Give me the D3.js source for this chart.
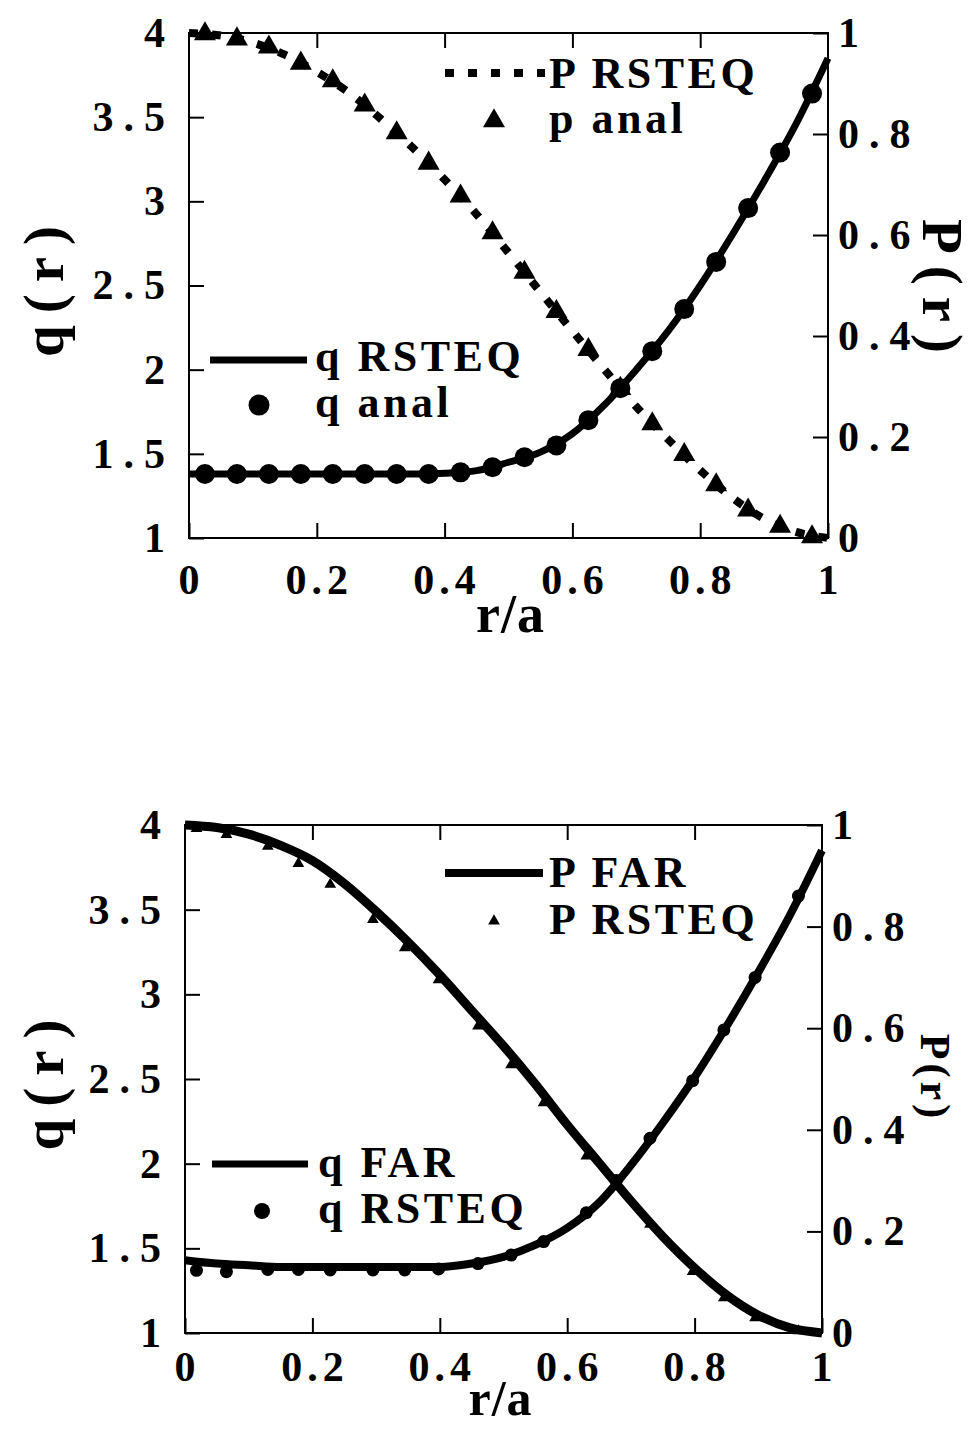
<!DOCTYPE html>
<html>
<head>
<meta charset="utf-8">
<script src="https://cdn.jsdelivr.net/npm/d3@7"></script>
<style>
  body { margin: 0; background: #fff; }
  svg text { font-family: "Liberation Serif", "Times New Roman", serif; font-weight: bold; fill: #000; }
</style>
</head>
<body>
<svg id="chart"></svg>
<script>
// ---- data ----
const xTicks = [0, 0.2, 0.4, 0.6, 0.8, 1];
const qTicks = [1, 1.5, 2, 2.5, 3, 3.5, 4];
const pTicks = [0, 0.2, 0.4, 0.6, 0.8, 1];

// top panel: RSTEQ curves
const rLineTop = [0, 0.05, 0.1, 0.15, 0.2, 0.25, 0.3, 0.35, 0.4, 0.45, 0.5, 0.55, 0.6, 0.65, 0.7, 0.75, 0.8, 0.85, 0.9, 0.95, 1.0];
const qRsteqTop = [1.38, 1.38, 1.38, 1.38, 1.38, 1.38, 1.38, 1.38, 1.385, 1.40, 1.45, 1.51, 1.62, 1.79, 2.00, 2.23, 2.50, 2.80, 3.12, 3.46, 3.85];
const pRsteqTop = [1.0, 0.995, 0.981, 0.957, 0.923, 0.882, 0.83, 0.773, 0.71, 0.641, 0.565, 0.487, 0.41, 0.334, 0.26, 0.195, 0.134, 0.08, 0.038, 0.012, 0.0];

// top panel: analytic points
const rAnal = [0.025, 0.075, 0.125, 0.175, 0.225, 0.275, 0.325, 0.375, 0.425, 0.475, 0.525, 0.575, 0.625, 0.675, 0.725, 0.775, 0.825, 0.875, 0.925, 0.975];
const qAnal = [1.38, 1.38, 1.38, 1.38, 1.38, 1.38, 1.38, 1.38, 1.39, 1.42, 1.48, 1.55, 1.70, 1.89, 2.11, 2.36, 2.64, 2.96, 3.29, 3.64];
const pAnal = [0.998, 0.988, 0.972, 0.94, 0.905, 0.857, 0.802, 0.742, 0.677, 0.604, 0.526, 0.448, 0.373, 0.296, 0.226, 0.165, 0.105, 0.055, 0.023, 0.002];

// bottom panel: FAR curves
const rFar = [0, 0.05, 0.1, 0.15, 0.2, 0.25, 0.3, 0.35, 0.4, 0.45, 0.5, 0.55, 0.6, 0.65, 0.7, 0.75, 0.8, 0.85, 0.9, 0.95, 1.0];
const qFar = [1.43, 1.41, 1.40, 1.39, 1.39, 1.39, 1.39, 1.39, 1.39, 1.41, 1.45, 1.52, 1.62, 1.77, 1.99, 2.24, 2.51, 2.81, 3.13, 3.47, 3.85];
const pFar = [1.0, 0.995, 0.982, 0.96, 0.93, 0.885, 0.83, 0.77, 0.705, 0.635, 0.565, 0.49, 0.41, 0.335, 0.26, 0.19, 0.128, 0.075, 0.035, 0.01, 0.0];

// bottom panel: RSTEQ points
const rRsteq = [0.018, 0.065, 0.13, 0.178, 0.228, 0.295, 0.345, 0.398, 0.46, 0.512, 0.563, 0.63, 0.677, 0.73, 0.797, 0.846, 0.895, 0.963];
const qRsteqBot = [1.37, 1.362, 1.375, 1.375, 1.372, 1.372, 1.372, 1.378, 1.41, 1.46, 1.54, 1.71, 1.90, 2.15, 2.49, 2.79, 3.10, 3.58];
const pRsteqBot = [0.993, 0.981, 0.958, 0.924, 0.883, 0.814, 0.758, 0.695, 0.604, 0.528, 0.453, 0.348, 0.296, 0.214, 0.121, 0.069, 0.030, 0.004];

const svg = d3.select("#chart").attr("width", 980).attr("height", 1430);

function drawPanel(opt) {
  const g = svg.append("g").attr("transform", "translate(" + opt.left + "," + opt.top + ")");
  const w = opt.width, h = opt.height;
  const x = d3.scaleLinear().domain([0, 1]).range([0, w]);
  const yq = d3.scaleLinear().domain([1, 4]).range([h, 0]);
  const yp = d3.scaleLinear().domain([0, 1]).range([h, 0]);

  // axes with inward ticks
  const fmt = d => String(d);
  const bottom = g.append("g").attr("transform", "translate(0," + h + ")")
    .call(d3.axisBottom(x).tickValues(xTicks).tickFormat(fmt).tickSize(-15).tickSizeOuter(0).tickPadding(opt.xPad));
  const topAx = g.append("g")
    .call(d3.axisTop(x).tickValues(xTicks.slice(1, -1)).tickFormat("").tickSize(-15).tickSizeOuter(0));
  const left = g.append("g")
    .call(d3.axisLeft(yq).tickValues(qTicks).tickFormat(fmt).tickSize(-15).tickSizeOuter(0).tickPadding(14));
  const right = g.append("g").attr("transform", "translate(" + w + ",0)")
    .call(d3.axisRight(yp).tickValues(pTicks).tickFormat(fmt).tickSize(-15).tickSizeOuter(0).tickPadding(10));
  [bottom, topAx, left, right].forEach(a => {
    a.select(".domain").remove();
    a.selectAll("line").attr("stroke", "#000").attr("stroke-width", 2);
    a.selectAll("text").attr("font-size", 42).style("letter-spacing", "10px")
      .attr("font-family", null);
  });
  bottom.selectAll("text").style("letter-spacing", "5px").attr("dx", "2px");

  g.append("rect").attr("width", w).attr("height", h)
    .attr("fill", "none").attr("stroke", "#000").attr("stroke-width", 2);

  // axis titles
  g.append("text").attr("x", w / 2 + opt.xtDx).attr("y", h + opt.xtDy)
    .attr("text-anchor", "middle").attr("font-size", opt.xtSize).style("letter-spacing", "1px").text("r/a");
  g.append("text").attr("transform", "translate(" + opt.qtX + "," + (h / 2) + ") rotate(-90)")
    .attr("text-anchor", "middle").attr("dy", "0.35em")
    .attr("font-size", 57).style("letter-spacing", "12px").text("q(r)");
  g.append("text").attr("transform", "translate(" + opt.ptX + "," + opt.ptY + ") rotate(90)")
    .attr("text-anchor", "middle").attr("dy", "0.35em")
    .attr("font-size", opt.ptSize).style("letter-spacing", opt.ptSpace + "px").text("P(r)");

  return { g, x, yq, yp };
}

function legendText(g, x, y, s) {
  g.append("text").attr("x", x).attr("y", y).attr("font-size", 44)
    .style("letter-spacing", "3.5px").text(s);
}

// ---------- top panel ----------
const A = drawPanel({ left: 189, top: 33, width: 639, height: 505, xPad: 26, xtDx: 2, xtDy: 94, xtSize: 54,
  qtX: -146, ptX: 754, ptY: 259, ptSize: 57, ptSpace: 12 });

const lineQ = d3.line().x((d, i) => A.x(rLineTop[i])).y(d => A.yq(d)).curve(d3.curveMonotoneX);
const lineP = d3.line().x((d, i) => A.x(rLineTop[i])).y(d => A.yp(d)).curve(d3.curveMonotoneX);

A.g.append("path").datum(pRsteqTop).attr("d", lineP)
  .attr("fill", "none").attr("stroke", "#000").attr("stroke-width", 8).attr("stroke-dasharray", "9,14");
A.g.append("path").datum(qRsteqTop).attr("d", lineQ)
  .attr("fill", "none").attr("stroke", "#000").attr("stroke-width", 7);

A.g.selectAll(".qa").data(qAnal).join("circle")
  .attr("cx", (d, i) => A.x(rAnal[i])).attr("cy", d => A.yq(d)).attr("r", 10).attr("fill", "#000");
const triBig = d3.symbol(d3.symbolTriangle, 210);
A.g.selectAll(".pa").data(pAnal).join("path")
  .attr("d", triBig).attr("fill", "#000")
  .attr("transform", (d, i) => "translate(" + A.x(rAnal[i]) + "," + A.yp(d) + ")");

// top legend
A.g.append("line").attr("x1", 256).attr("x2", 356).attr("y1", 40).attr("y2", 40)
  .attr("stroke", "#000").attr("stroke-width", 8).attr("stroke-dasharray", "9,14");
legendText(A.g, 360, 55, "P RSTEQ");
A.g.append("path").attr("d", triBig).attr("fill", "#000").attr("transform", "translate(305,88)");
legendText(A.g, 360, 100, "p anal");
A.g.append("line").attr("x1", 21).attr("x2", 118).attr("y1", 327).attr("y2", 327)
  .attr("stroke", "#000").attr("stroke-width", 7);
legendText(A.g, 126, 338, "q RSTEQ");
A.g.append("circle").attr("cx", 70).attr("cy", 372).attr("r", 10.5).attr("fill", "#000");
legendText(A.g, 126, 384, "q anal");

// ---------- bottom panel ----------
const B = drawPanel({ left: 185, top: 825, width: 637, height: 508, xPad: 18, xtDx: -3, xtDy: 82, xtSize: 50,
  qtX: -142, ptX: 751, ptY: 253, ptSize: 42, ptSpace: 4 });

const lineQf = d3.line().x((d, i) => B.x(rFar[i])).y(d => B.yq(d)).curve(d3.curveMonotoneX);
const linePf = d3.line().x((d, i) => B.x(rFar[i])).y(d => B.yp(d)).curve(d3.curveMonotoneX);

const triSmall = d3.symbol(d3.symbolTriangle, 60);
B.g.selectAll(".pr").data(pRsteqBot).join("path")
  .attr("d", triSmall).attr("fill", "#000")
  .attr("transform", (d, i) => "translate(" + B.x(rRsteq[i]) + "," + B.yp(d) + ")");
B.g.selectAll(".qr").data(qRsteqBot).join("circle")
  .attr("cx", (d, i) => B.x(rRsteq[i])).attr("cy", d => B.yq(d)).attr("r", 6.5).attr("fill", "#000");

B.g.append("path").datum(pFar).attr("d", linePf)
  .attr("fill", "none").attr("stroke", "#000").attr("stroke-width", 9);
B.g.append("path").datum(qFar).attr("d", lineQf)
  .attr("fill", "none").attr("stroke", "#000").attr("stroke-width", 8);

// bottom legend
B.g.append("line").attr("x1", 260).attr("x2", 358).attr("y1", 48).attr("y2", 48)
  .attr("stroke", "#000").attr("stroke-width", 8);
legendText(B.g, 364, 62, "P FAR");
B.g.append("path").attr("d", triSmall).attr("fill", "#000").attr("transform", "translate(309,96)");
legendText(B.g, 364, 109, "P RSTEQ");
B.g.append("line").attr("x1", 27).attr("x2", 123).attr("y1", 339).attr("y2", 339)
  .attr("stroke", "#000").attr("stroke-width", 7);
legendText(B.g, 133, 352, "q FAR");
B.g.append("circle").attr("cx", 77).attr("cy", 386).attr("r", 8).attr("fill", "#000");
legendText(B.g, 133, 398, "q RSTEQ");
</script>
</body>
</html>
